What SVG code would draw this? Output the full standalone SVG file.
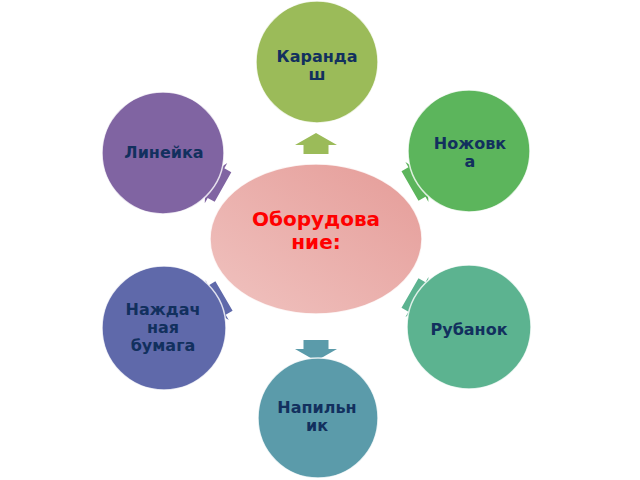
<svg xmlns="http://www.w3.org/2000/svg" width="640" height="480" viewBox="0 0 640 480">
<defs>
<linearGradient id="gc" x1="0" y1="1" x2="1" y2="0">
<stop offset="0" stop-color="#F0C3C0"/>
<stop offset="1" stop-color="#E59C98"/>
</linearGradient>
<path id="arr" d="M-12.5,0 L12.5,0 L12.5,-9 L21,-9 L0,-21 L-21,-9 L-12.5,-9 Z"/>
<path id="arrs" d="M-17,0 L17,0 L17,-8 L23,-8 L0,-20 L-23,-8 L-17,-8 Z"/>
</defs>
<style>
.lbl{font-family:"DejaVu Sans",Verdana,sans-serif;font-weight:bold;font-size:16px;fill:#12305E;text-anchor:middle}
.ctr{font-family:"DejaVu Sans",Verdana,sans-serif;font-weight:bold;font-size:20px;fill:#FF0000;text-anchor:middle}
.node{stroke:#FFFFFF;stroke-width:1.5;stroke-opacity:0.8}
</style>
<rect width="640" height="480" fill="#FFFFFF"/>
<g id="connectors">
<use href="#arr" transform="translate(316,154)" fill="#9BBB59"/>
<use href="#arr" transform="translate(316,340) rotate(180)" fill="#5B9BAA"/>
<use href="#arrs" transform="translate(223,187) rotate(-60.7)" fill="#8064A2"/>
<use href="#arrs" transform="translate(410,186) rotate(60)" fill="#5CB55C"/>
<use href="#arrs" transform="translate(224,296) rotate(-120.4)" fill="#5F69AA"/>
<use href="#arrs" transform="translate(410,293) rotate(120)" fill="#5CB390"/>
</g>
<g id="center">
<ellipse cx="316" cy="239" rx="106" ry="75" fill="url(#gc)" class="node"/>
<text class="ctr" x="316" y="226">Оборудова</text>
<text class="ctr" x="316" y="249">ние:</text>
</g>
<g id="n-karandash">
<circle cx="317" cy="62" r="61" fill="#9BBB59" class="node"/>
<text class="lbl" x="317" y="62">Каранда</text>
<text class="lbl" x="317" y="80">ш</text>
</g>
<g id="n-nozhovka">
<circle cx="469" cy="151" r="61" fill="#5CB55C" class="node"/>
<text class="lbl" x="470" y="149">Ножовк</text>
<text class="lbl" x="470" y="167">а</text>
</g>
<g id="n-rubanok">
<circle cx="469" cy="327" r="62" fill="#5CB390" class="node"/>
<text class="lbl" x="469" y="335">Рубанок</text>
</g>
<g id="n-napilnik">
<circle cx="318" cy="418" r="60" fill="#5B9BAA" class="node"/>
<text class="lbl" x="317" y="413">Напильн</text>
<text class="lbl" x="317" y="431">ик</text>
</g>
<g id="n-nazhdachnaya">
<circle cx="164" cy="328" r="62" fill="#5F69AA" class="node"/>
<text class="lbl" x="163" y="315">Наждач</text>
<text class="lbl" x="163" y="333">ная</text>
<text class="lbl" x="163" y="351">бумага</text>
</g>
<g id="n-lineyka">
<circle cx="163" cy="153" r="61" fill="#8064A2" class="node"/>
<text class="lbl" x="164" y="158">Линейка</text>
</g>
</svg>
